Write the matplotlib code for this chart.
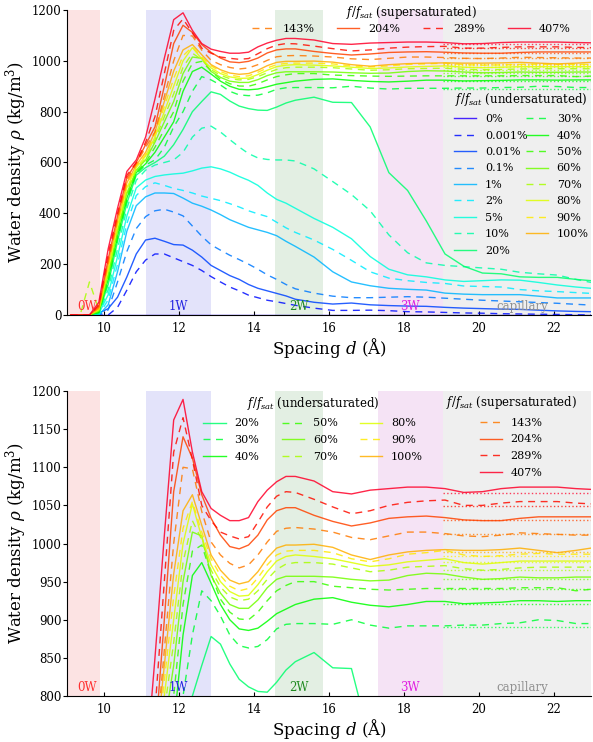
import numpy as np
import matplotlib
matplotlib.use("Agg")
import matplotlib.pyplot as plt
import matplotlib.transforms as mtransforms

plt.rcParams["font.family"] = "DejaVu Serif"
plt.rcParams["mathtext.fontset"] = "dejavuserif"

# ── data ─────────────────────────────────────────────────────────────────────
spacing = [9.1, 9.35, 9.6, 9.85, 10.1, 10.35, 10.6, 10.85, 11.1,
           11.35, 11.6, 11.85, 12.1, 12.35, 12.6, 12.85, 13.1, 13.35, 13.6,
           13.85, 14.1, 14.35, 14.6, 14.85, 15.1,
           15.6, 16.1, 16.6, 17.1, 17.6, 18.1, 18.6, 19.1, 19.6, 20.1,
           20.6, 21.1, 21.6, 22.1, 22.6, 23.0]

rho_0 = [0] * 41
rho_0001 = [0, 0, 0, 0, 0, 30, 98, 170, 216,
            240, 240, 225, 210, 195, 175, 151, 130, 110, 95, 78, 68, 58, 52, 45, 38,
            27, 18, 18, 19, 17, 13, 12, 10, 8, 7, 5, 4, 3, 2, 1, 0]
rho_001 = [0, 0, 0, 7, 25, 70, 150, 240, 295,
           302, 290, 277, 275, 255, 228, 195, 175, 155, 140, 120, 105, 95, 85, 75, 62,
           50, 43, 47, 40, 37, 35, 34, 30, 27, 25, 23, 22, 19, 16, 14, 13]
rho_01 = [0, 0, 0, 0, 20, 130, 250, 340, 387,
          410, 416, 405, 390, 350, 310, 276, 255, 235, 218, 200, 180, 158, 140, 120, 103,
          86, 74, 68, 68, 70, 72, 70, 66, 62, 58, 55, 52, 49, 46, 42, 39]
rho_1 = [0, 0, 0, 0, 40, 170, 330, 430, 465,
         480, 480, 478, 460, 440, 428, 413, 395, 375, 360, 345, 335, 325, 312, 290, 270,
         228, 170, 130, 115, 105, 101, 98, 86, 82, 80, 80, 80, 74, 67, 67, 67]
rho_2 = [0, 0, 0, 0, 60, 200, 360, 470, 505,
         520, 510, 498, 490, 480, 468, 459, 450, 438, 425, 410, 398, 387, 365, 343, 325,
         295, 258, 215, 170, 145, 135, 128, 124, 114, 112, 110, 100, 95, 92, 88, 85]
rho_5 = [0, 0, 0, 5, 80, 230, 390, 500, 531,
         545, 551, 555, 558, 567, 578, 583, 575, 562, 545, 530, 510, 480, 455, 440, 420,
         380, 345, 300, 230, 180, 158, 150, 138, 132, 135, 138, 137, 128, 118, 110, 105]
rho_10 = [0, 0, 0, 5, 100, 260, 420, 530, 570,
          590, 600, 610, 640, 700, 735, 743, 720, 690, 661, 635, 618, 612, 610, 610, 606,
          575, 525, 474, 410, 315, 245, 205, 195, 190, 185, 180, 168, 162, 157, 140, 128]
rho_20 = [0, 0, 0, 10, 120, 290, 440, 550, 580,
          600, 625, 670, 730, 800, 840, 878, 868, 842, 822, 812, 806, 805, 818, 834, 845,
          857, 837, 836, 740, 560, 490, 370, 240, 192, 165, 162, 150, 148, 148, 140, 135]
rho_30 = [0, 0, 0, 10, 130, 300, 450, 555, 590,
          610, 660, 740, 800, 880, 938, 925, 905, 880, 866, 863, 865, 874, 888, 894, 895,
          895, 894, 900, 893, 889, 892, 892, 892, 893, 893, 895, 896, 900, 899, 895, 895]
rho_40 = [0, 0, 0, 10, 140, 310, 460, 560, 595,
          640, 700, 760, 880, 958, 975, 948, 920, 900, 888, 886, 889, 898, 908, 914, 920,
          927, 929, 923, 919, 917, 920, 924, 924, 921, 922, 923, 925, 925, 924, 925, 925]
rho_50 = [0, 0, 0, 15, 150, 320, 470, 565, 600,
          660, 730, 800, 920, 990, 998, 960, 927, 910, 901, 900, 910, 925, 938, 945, 950,
          950, 944, 942, 940, 939, 940, 941, 941, 941, 941, 941, 942, 942, 942, 938, 940]
rho_60 = [0, 0, 0, 15, 160, 330, 480, 570, 610,
          680, 760, 840, 950, 1015, 1010, 958, 935, 920, 915, 915, 926, 942, 953, 957, 957,
          957, 956, 953, 951, 952, 958, 961, 960, 956, 953, 954, 956, 955, 955, 956, 956]
rho_70 = [0, 0, 130, 20, 170, 340, 490, 575, 615,
          690, 780, 870, 975, 1030, 1005, 965, 943, 930, 925, 927, 938, 953, 966, 973, 975,
          975, 973, 968, 963, 965, 969, 970, 971, 967, 965, 966, 968, 969, 969, 969, 969]
rho_80 = [0, 0, 0, 20, 180, 350, 500, 580, 625,
          700, 800, 900, 1000, 1052, 1008, 972, 950, 937, 931, 932, 946, 963, 977, 983, 985,
          983, 980, 975, 970, 972, 976, 978, 980, 975, 973, 975, 977, 977, 977, 977, 977]
rho_90 = [0, 0, 0, 25, 190, 360, 510, 585, 630,
          710, 820, 930, 1020, 1055, 1015, 980, 958, 944, 938, 941, 955, 972, 985, 990, 991,
          991, 988, 980, 976, 980, 986, 988, 991, 985, 983, 984, 986, 987, 986, 986, 986]
rho_100 = [0, 0, 0, 25, 200, 370, 520, 590, 640,
           720, 840, 960, 1043, 1064, 1024, 985, 965, 952, 947, 950, 963, 981, 994, 998, 998,
           999, 995, 985, 979, 985, 989, 991, 992, 991, 991, 992, 994, 991, 988, 991, 994]
rho_143 = [0, 0, 0, 30, 210, 380, 530, 595, 660,
           720, 860, 1000, 1100, 1098, 1042, 1002, 985, 974, 968, 972, 985, 1002, 1016, 1020, 1021,
           1019, 1015, 1008, 1005, 1010, 1015, 1015, 1013, 1010, 1009, 1011, 1014, 1013, 1012, 1011, 1011]
rho_204 = [0, 0, 0, 35, 220, 390, 540, 600, 670,
           740, 900, 1068, 1140, 1112, 1064, 1033, 1011, 996, 993, 998, 1011, 1031, 1043, 1047, 1047,
           1037, 1029, 1023, 1027, 1033, 1035, 1036, 1034, 1031, 1030, 1030, 1033, 1035, 1035, 1035, 1035]
rho_289 = [0, 0, 0, 40, 240, 400, 550, 600, 680,
           780, 950, 1120, 1165, 1110, 1050, 1030, 1015, 1010, 1006, 1009, 1028, 1048, 1062, 1068, 1067,
           1058, 1048, 1039, 1043, 1050, 1054, 1056, 1057, 1050, 1050, 1053, 1055, 1055, 1055, 1053, 1052]
rho_407 = [0, 0, 0, 50, 260, 420, 565, 610, 700,
           850, 1010, 1162, 1189, 1120, 1068, 1046, 1037, 1030, 1030, 1034, 1055, 1070, 1081, 1088, 1088,
           1082, 1068, 1065, 1070, 1072, 1074, 1074, 1072, 1067, 1068, 1072, 1074, 1074, 1074, 1072, 1071]

labels = ["0%", "0.001%", "0.01%", "0.1%", "1%", "2%", "5%", "10%", "20%",
          "30%", "40%", "50%", "60%", "70%", "80%", "90%", "100%",
          "143%", "204%", "289%", "407%"]
curves = [rho_0, rho_0001, rho_001, rho_01, rho_1, rho_2, rho_5, rho_10, rho_20,
          rho_30, rho_40, rho_50, rho_60, rho_70, rho_80, rho_90, rho_100,
          rho_143, rho_204, rho_289, rho_407]

# bulk-like reference levels in the capillary region (dotted)
bulk_labels = ["30%", "40%", "50%", "60%", "70%", "80%", "90%", "100%",
               "143%", "204%", "289%", "407%"]
bulk_rho = [891, 921, 940, 953, 965, 976, 983, 989, 1012, 1031, 1049, 1066]

# hydration-state regions
region_names = ["0W", "1W", "2W", "3W", "capillary"]
region_lo = [8.5, 11.1, 14.57, 17.3, 19.04]
region_hi = [9.87, 12.85, 15.83, 19.04, 23.5]
region_fill = ["#f7a8a8", "#a8a8f2", "#a8cfa8", "#e0a8e0", "#cfcfcf"]
region_text = ["#ff3030", "#2020e0", "#208a20", "#e020e0", "#909090"]
region_tx = [9.53, 11.98, 15.2, 18.17, 21.17]


def draw_panel(ax, ylim, yticks, label_y):
    for lo, hi, fc in zip(region_lo, region_hi, region_fill):
        ax.axvspan(lo, hi, color=fc, alpha=0.32, lw=0, zorder=0)
    trans = mtransforms.blended_transform_factory(ax.transData, ax.transAxes)
    for name, tx, tc in zip(region_names, region_tx, region_text):
        ax.text(tx, label_y, name, transform=trans, color=tc, fontsize=8.5,
                ha="center", va="bottom")

    cmap = plt.get_cmap("gist_rainbow")
    n = len(curves)
    lines = []
    for i, (lab, rho) in enumerate(zip(labels, curves)):
        col = cmap(0.8 * (1 - i / (n - 1)))
        ls = (0, (5, 4)) if i % 2 else "-"
        ln, = ax.plot(spacing, rho, color=col, lw=1.0, ls=ls, alpha=0.85,
                      label=lab, zorder=2)
        lines.append(ln)
        if lab in bulk_labels:
            lvl = bulk_rho[bulk_labels.index(lab)]
            ax.plot([19.04, 23.0], [lvl, lvl], color=col, lw=1.0, ls=":",
                    alpha=0.75, zorder=1)

    ax.set_xlim(9, 23)
    ax.set_ylim(*ylim)
    ax.set_xticks([10, 12, 14, 16, 18, 20, 22])
    ax.set_yticks(yticks)
    ax.spines["top"].set_visible(False)
    ax.spines["right"].set_visible(False)
    ax.tick_params(labelsize=8.5, length=3, top=False, right=False)
    ax.tick_params(axis="x", direction="in", pad=5)
    ax.tick_params(axis="y", direction="out", pad=1)
    ax.set_xlabel(r"Spacing $d$ (Å)", fontsize=12, labelpad=1)
    ax.set_ylabel(r"Water density $\rho$ (kg/m$^3$)", fontsize=12, labelpad=2)
    return lines


fig = plt.figure(figsize=(5.93, 7.42), dpi=100)
ax1 = fig.add_axes([0.113, 0.5755, 0.8836, 0.411])
ax2 = fig.add_axes([0.113, 0.062, 0.8836, 0.411])

title_sup = r"$f/f_{sat}$ (supersaturated)"
title_und = r"$f/f_{sat}$ (undersaturated)"
leg_kw = dict(frameon=False, fontsize=8, title_fontsize=8.5, borderaxespad=0.0,
              handletextpad=0.8)

# top panel: full range
lines = draw_panel(ax1, (0, 1200), range(0, 1201, 200), 0.005)
leg_sup = ax1.legend(lines[17:], labels[17:], ncol=4, title=title_sup,
                     loc="upper right", bbox_to_anchor=(0.97, 1.035),
                     labelspacing=0.3, columnspacing=2.0, **leg_kw)
ax1.add_artist(leg_sup)
ax1.legend(lines[:17], labels[:17], ncol=2, title=title_und,
           loc="upper right", bbox_to_anchor=(1.004, 0.75),
           labelspacing=0.58, columnspacing=-0.2, **leg_kw)

# bottom panel: zoom on the dense high-humidity curves
lines = draw_panel(ax2, (800, 1200), range(800, 1201, 50), 0.005)
leg_und = ax2.legend(lines[8:17], labels[8:17], ncol=3, title=title_und,
                     loc="upper left", bbox_to_anchor=(0.252, 1.003),
                     labelspacing=0.62, columnspacing=2.0, **leg_kw)
ax2.add_artist(leg_und)
ax2.legend(lines[17:], labels[17:], ncol=1, title=title_sup,
           loc="upper right", bbox_to_anchor=(0.981, 1.006),
           labelspacing=0.62, **leg_kw)

fig.savefig("out.png", dpi=100)
